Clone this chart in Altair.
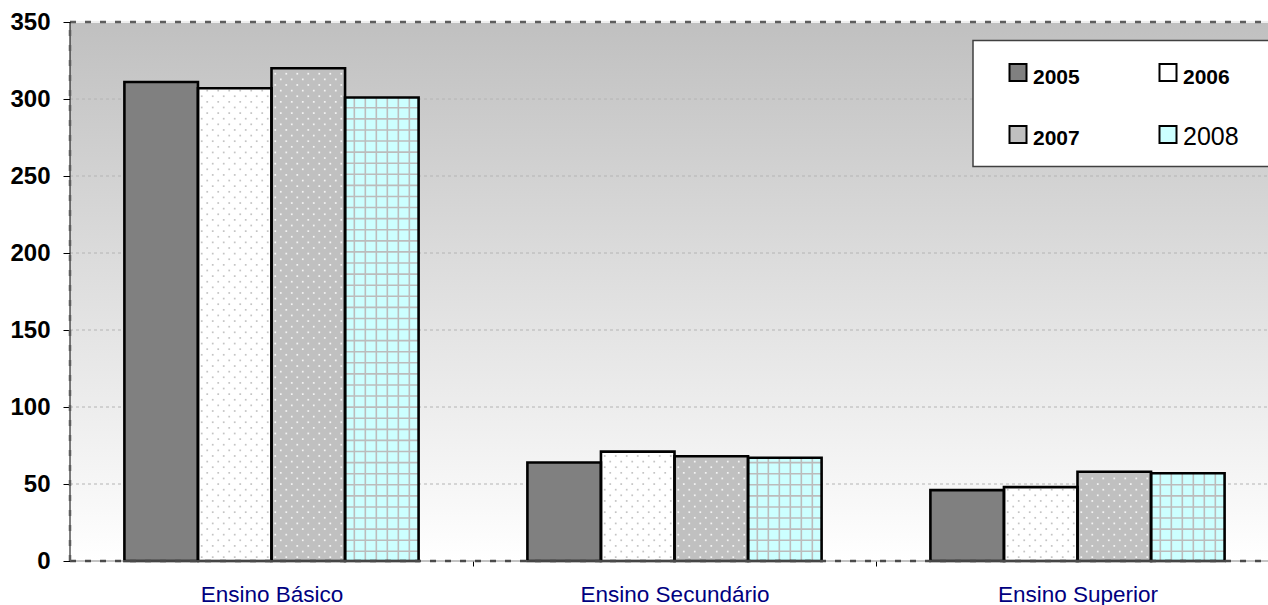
import altair as alt
import pandas as pd

# Enrolment counts by level of education and year
cats = ["Ensino Básico", "Ensino Secundário", "Ensino Superior"]
years = ["2005", "2006", "2007", "2008"]
v2005 = [311, 64, 46]
v2006 = [307, 71, 48]
v2007 = [320, 68, 58]
v2008 = [301, 67, 57]
y_ticks = [0, 50, 100, 150, 200, 250, 300, 350]

fills = ["#808080", "#ffffff", "#c0c0c0", "#ccffff"]
FONT = "Liberation Sans"

W, H = 1198, 539          # visible plot area
BAND_RANGE = 1209         # band layout runs slightly past the right edge
STEP = BAND_RANGE / 3
SUB = STEP * 0.73 / 4     # width of one year's bar inside a group

series = dict(zip(years, [v2005, v2006, v2007, v2008]))
bars = pd.DataFrame(
    [{"cat": c, "year": y, "value": v} for y in years for c, v in zip(cats, series[y])]
)

# Cross-hatch rows for the 2008 bars and dot rows for 2006 / 2007 bars
grid_rows = []
for c, v in zip(cats, v2008):
    k = 0
    while 6.3 + 7.2 * k < v - 2:
        grid_rows.append({"cat": c, "year": "2008", "value": 6.3 + 7.2 * k})
        k += 1
grid_df = pd.DataFrame(grid_rows)
vline_df = pd.DataFrame([{"cat": c, "value": v, "zero": 0} for c, v in zip(cats, v2008)])

dot_rows = []
for yr in ["2006", "2007"]:
    for c, v in zip(cats, series[yr]):
        k = 0
        while 2.5 + 3.65 * k < v - 1.5:
            dot_rows.append({"cat": c, "year": yr, "value": 2.5 + 3.65 * k, "odd": k % 2})
            k += 1
dots = pd.DataFrame(dot_rows)

x_enc = alt.X(
    "cat:N",
    sort=cats,
    title=None,
    scale=alt.Scale(range=[0, BAND_RANGE], paddingInner=0.27, paddingOuter=0.135),
    axis=alt.Axis(
        labelFont=FONT, labelFontSize=22.5, labelColor="#000080", labelAngle=0,
        labelPadding=17, labelLimit=500, tickSize=5, tickColor="#000000",
        tickOffset=STEP / 2, labelOffset=-STEP / 2,
        domain=False, grid=False,
    ),
)
xo_enc = alt.XOffset("year:N", sort=years, scale=alt.Scale(domain=years, paddingInner=0, paddingOuter=0))
y_scale = alt.Scale(domain=[0, 350], nice=False)
y_enc = alt.Y(
    "value:Q",
    title=None,
    scale=y_scale,
    axis=alt.Axis(
        values=y_ticks, labelFont=FONT, labelFontSize=24, labelFontWeight="bold",
        labelColor="#000000", labelPadding=13, tickSize=7, tickColor="#000000",
        domain=False, grid=False,
    ),
)
color_enc = alt.Color("year:N", scale=alt.Scale(domain=years, range=fills), legend=None)

one = pd.DataFrame({"a": [0]})

background = alt.Chart(one).mark_rect(
    fill=alt.LinearGradient(
        gradient="linear", x1=0, x2=0, y1=0, y2=1,
        stops=[alt.GradientStop(color="#c0c0c0", offset=0), alt.GradientStop(color="#ffffff", offset=1)],
    )
).encode(x=alt.value(0), x2=alt.value(W), y=alt.value(0), y2=alt.value(H))

gridlines = alt.Chart(pd.DataFrame({"value": y_ticks[1:-1]})).mark_rule(
    color="#b4b4b4", strokeWidth=1, strokeDash=[3, 3]
).encode(y=alt.Y("value:Q", scale=y_scale, title=None), x=alt.value(0), x2=alt.value(W))

bar_fill = alt.Chart(bars).mark_bar(strokeWidth=0).encode(x=x_enc, xOffset=xo_enc, y=y_enc, color=color_enc)

hatch_h = alt.Chart(grid_df).mark_tick(
    orient="horizontal", size=73, thickness=1.6, color="#bcbcbc", opacity=1
).encode(x=x_enc, xOffset=xo_enc, y=y_enc)

# vertical hatch lines: pixel offsets from the group centre to the 2008 bar
centre_2008 = 1.5 * SUB
hatch_v = [
    alt.Chart(vline_df).mark_rule(color="#bcbcbc", strokeWidth=1.6, xOffset=centre_2008 + off).encode(
        x=x_enc, y=y_enc, y2="zero:Q"
    )
    for off in [-27.5, -16.5, -5.5, 5.5, 16.5, 27.5]
]

dot_layers = []
for yr, yi, dot_col in [("2006", 1, "#c4c4c4"), ("2007", 2, "#f4f4f4")]:
    centre = (yi - 1.5) * SUB
    for parity, offs in [(0, [-33, -22, -11, 0, 11, 22, 33]), (1, [-27.5, -16.5, -5.5, 5.5, 16.5, 27.5])]:
        for off in offs:
            dot_layers.append(
                alt.Chart(dots)
                .transform_filter((alt.datum.odd == parity) & (alt.datum.year == yr))
                .mark_square(size=3, xOffset=centre + off, color=dot_col, opacity=1)
                .encode(x=x_enc, y=y_enc)
            )

bar_outline = alt.Chart(bars).mark_bar(
    fillOpacity=0, stroke="#000000", strokeWidth=2.6
).encode(x=x_enc, xOffset=xo_enc, y=y_enc)

# Plot frame: solid axis lines with a dashed dark-grey border on top
def hline(val, color, width, dash=None):
    kw = dict(color=color, strokeWidth=width)
    if dash:
        kw["strokeDash"] = dash
    return alt.Chart(one).mark_rule(**kw).encode(
        y=alt.datum(val, scale=y_scale), x=alt.value(0), x2=alt.value(W)
    )

def vline(color, width, dash=None):
    kw = dict(color=color, strokeWidth=width)
    if dash:
        kw["strokeDash"] = dash
    return alt.Chart(one).mark_rule(**kw).encode(
        x=alt.value(0), y=alt.datum(0, scale=y_scale), y2=alt.datum(350)
    )

frame = [
    hline(350, "#f0f0f0", 2.2),
    hline(350, "#5c5c5c", 2.5, [6, 9]),
    hline(0, "#8a8a8a", 1.2),
    hline(0, "#4a4a4a", 2.5, [6, 9]),
    vline("#000000", 1),
    vline("#5c5c5c", 2.5, [6, 9]),
]

# Legend box drawn in the upper-right corner
legend_box = alt.Chart(one).mark_rect(fill="#ffffff", stroke="#404040", strokeWidth=1.5).encode(
    x=alt.value(903), x2=alt.value(1215), y=alt.value(18.5), y2=alt.value(144.5)
)
legend_items = []
slots = [(948, 50.5, 963, 61.5), (1098, 50.5, 1113, 61.5), (948, 112.5, 963, 123), (1098, 112.5, 1113, 123)]
for yr, col, (sx, sy, tx, ty) in zip(years, fills, slots):
    legend_items.append(
        alt.Chart(one).mark_square(size=289, fill=col, stroke="#000000", strokeWidth=2, opacity=1).encode(
            x=alt.value(sx), y=alt.value(sy)
        )
    )
    big = yr == "2008"
    legend_items.append(
        alt.Chart(one).mark_text(
            align="left", baseline="alphabetic", font=FONT,
            fontSize=25 if big else 21, fontWeight="normal" if big else "bold", color="#000000",
        ).encode(x=alt.value(tx), y=alt.value(ty), text=alt.value(yr))
    )

chart = alt.layer(
    background, gridlines, bar_fill, hatch_h, *hatch_v, *dot_layers, bar_outline, *frame,
    legend_box, *legend_items,
).properties(
    width=W, height=H,
    autosize=alt.AutoSizeParams(type="none"),
    padding={"left": 70, "top": 22, "right": 0, "bottom": 44},
    background="#ffffff",
).configure_view(stroke=None)

chart.save("out.html", embed_options={"renderer": "svg", "actions": False})
